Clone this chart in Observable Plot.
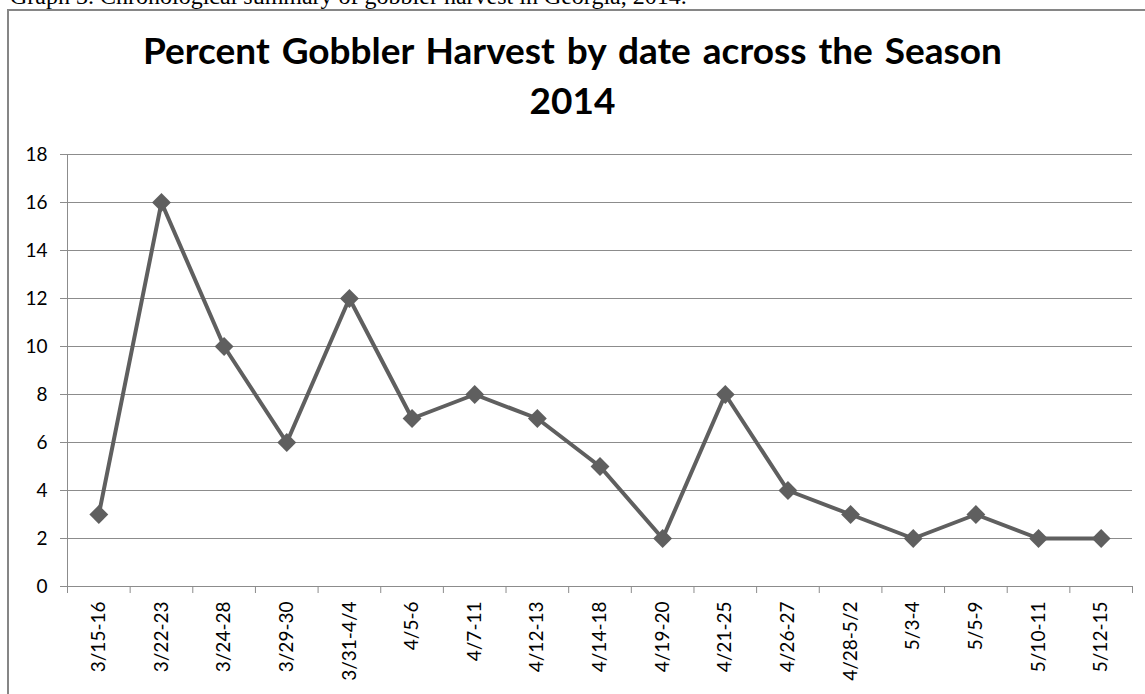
<!DOCTYPE html>
<html>
<head>
<meta charset="utf-8">
<script src="https://cdn.jsdelivr.net/npm/d3@7"></script>
<script src="https://cdn.jsdelivr.net/npm/@observablehq/plot@0.6"></script>
<style>
  html, body { margin: 0; padding: 0; background: #fff; }
  #page { position: relative; width: 1145px; height: 694px; overflow: hidden; }
  #caption { position: absolute; left: 10px; top: -17px; font-family: "Liberation Serif", "Times New Roman", serif; font-size: 24px; color: #000; white-space: nowrap; }
  #frame { position: absolute; left: 7px; top: 9px; width: 2000px; height: 2000px; border-left: 2px solid #868686; border-top: 2px solid #868686; }
  #title { position: absolute; left: 0; top: 0; width: 1145px; height: 140px; box-sizing: border-box; padding-top: 25px; text-align: center; font-family: Lato, "Open Sans", sans-serif; font-weight: bold; font-size: 37px; line-height: 50px; word-spacing: 3px; color: #000; }
  #chart { position: absolute; left: 0; top: 140px; }
</style>
</head>
<body>
<div id="page">
  <div id="caption">Graph 3. Chronological summary of gobbler harvest in Georgia, 2014.</div>
  <div id="frame"></div>
  <div id="title">Percent Gobbler Harvest by date across the Season<br>2014</div>
  <div id="chart"></div>
</div>
<script>
const categories = ["3/15-16","3/22-23","3/24-28","3/29-30","3/31-4/4","4/5-6","4/7-11","4/12-13","4/14-18","4/19-20","4/21-25","4/26-27","4/28-5/2","5/3-4","5/5-9","5/10-11","5/12-15"];
const percent = [3,16,10,6,12,7,8,7,5,2,8,4,3,2,3,2,2];
const yTicks = [0,2,4,6,8,10,12,14,16,18];

const data = categories.map((c, i) => ({i, c, v: percent[i]}));
const bounds = d3.range(categories.length + 1).map(k => k - 0.5);

const grid = "#8c8c8c";
const ink = "#5f5f5f";

const chart = Plot.plot({
  width: 1145,
  height: 554,
  marginLeft: 67,
  marginRight: 13,
  marginTop: 14,
  marginBottom: 108,
  style: {fontFamily: "Lato, 'Open Sans', sans-serif", fontSize: "19px", color: "#000", background: "transparent"},
  x: {domain: [-0.5, categories.length - 0.5], axis: null},
  y: {domain: [0, 18], axis: null},
  marks: [
    Plot.gridY(yTicks, {stroke: grid, strokeOpacity: 1, strokeWidth: 1}),
    Plot.axisY({ticks: yTicks, label: null, tickSize: 7, tickPadding: 13, stroke: grid, strokeOpacity: 1, fill: "#000", fontSize: 19}),
    Plot.ruleX([-0.5], {y1: 0, y2: 18, stroke: grid, strokeWidth: 1}),
    Plot.axisX({ticks: bounds, label: null, tickSize: 7, tickFormat: () => "", stroke: grid, strokeOpacity: 1}),
    Plot.axisX({ticks: d3.range(categories.length), label: null, tickSize: 0, tickPadding: 15, tickRotate: -90, tickFormat: i => categories[i], fill: "#000", fontSize: 19}),
    Plot.line(data, {x: "i", y: "v", stroke: ink, strokeWidth: 4, strokeLinejoin: "miter"}),
    Plot.dot(data, {x: "i", y: "v", symbol: "diamond2", r: 8.5, fill: ink, stroke: "none"})
  ]
});
document.getElementById("chart").appendChild(chart);
</script>
</body>
</html>
